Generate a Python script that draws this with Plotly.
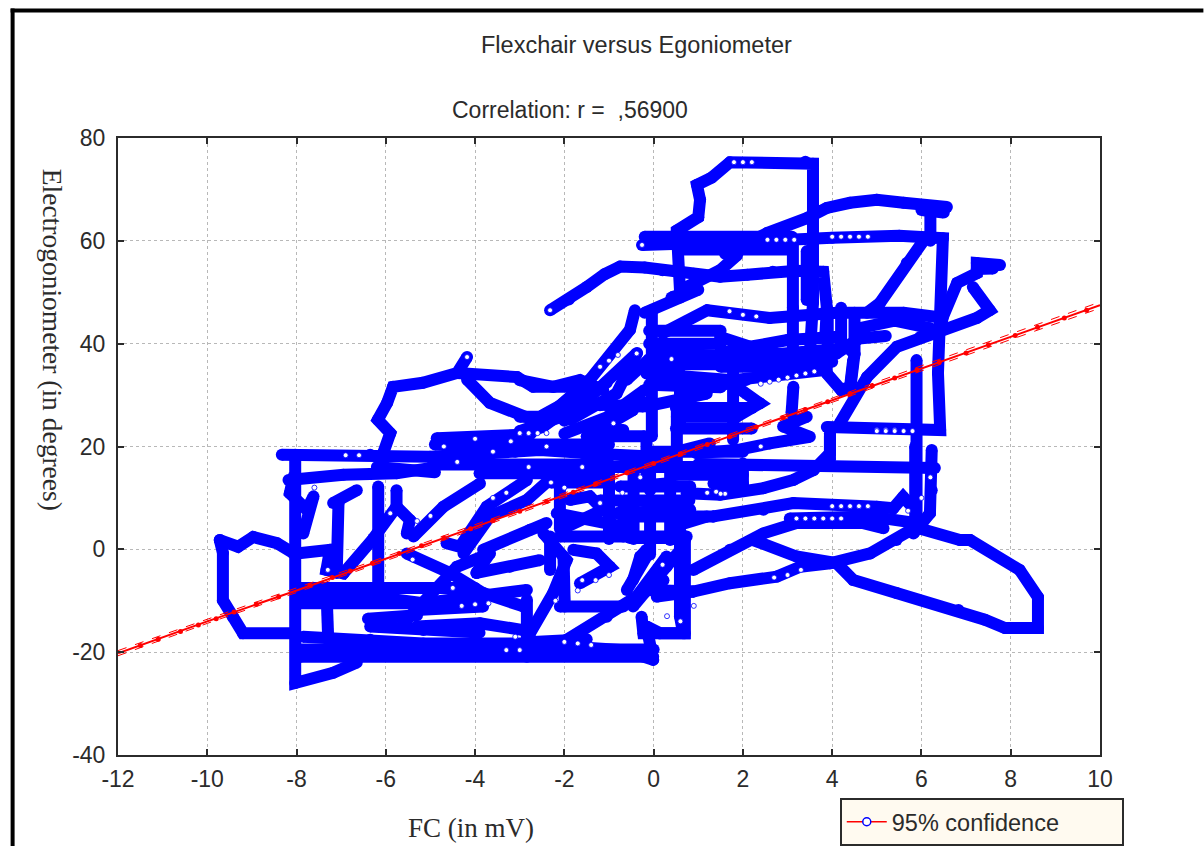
import plotly.graph_objects as go

# ---------- data (FC in mV, electrogoniometer in degrees) ----------
a01_x=[-2.32,-1.9,-1.5,-1.1,-0.75,-0.2,0.2,0.9,1.49,2.1,2.67,3.2,3.8,3.88,3.85]
a01_y=[46.5,48.6,51,53.5,55,54.8,54.3,53.6,53,53.4,54,54.2,54,47,42]
a02_x=[0.59,0.52,1.0,1.04,0.97,1.3,1.71,3.4,3.57,3.57,3.5]
a02_y=[50.4,62,64.6,68,70.9,72.3,75.3,75.4,75,48,38]
a03_x=[-0.26,1.0,2.54,4.0,5.5,6.48,6.42,6.37,6.42,3.88]
a03_y=[59.2,59.4,60,60.6,61,60.5,45,34.3,23.2,23.8]
a04_x=[1.6,2.54,3.43,3.88,4.4,5,5.6,6.57]
a04_y=[57.5,61.5,64.4,66.4,67.4,68,67.4,66.6]
a05_x=[6.2,6.2]
a05_y=[66,60]
a06_x=[6.1,5.67,5.07,4.78]
a06_y=[60.7,55.7,47.9,46]
a07_x=[7.76,7.24,7.24,6.8,6.48,6.4]
a07_y=[55.3,55.7,53.7,51.8,45.2,42]
a08_x=[7.15,7.53,7.24,5.97,5.45,4.78,4.17]
a08_y=[51,46.5,45,41.3,39.4,33.5,24.5]
a09_x=[0.2,1.2,2.6,4.1,5.6,6.35]
a09_y=[42,46.5,45,46,46,45.2]
a10_x=[1.49,2.16,3,4.1,4.5]
a10_y=[41.3,39.4,40.7,41.3,38]
a11_x=[-0.04,-0.04]
a11_y=[46.5,22]
a12_x=[-0.42,-0.53,-1.43,-2.6,-3.1]
a12_y=[46.5,42.7,33,24,19]
a13_x=[-0.37,-1.05,-2.0]
a13_y=[38.2,32.4,25]
a14_x=[1.87,1.49,0.6]
a14_y=[57.2,54.3,50.4]
a15_x=[3.12,3.12,3.12]
a15_y=[60,47,38]
a16_x=[1.78,1.78]
a16_y=[38.8,21.3]
a17_x=[5.89,5.89]
a17_y=[36.8,4.7]
a19_x=[3.43,3.43]
a19_y=[58,48.5]
a20_x=[0.6,3.1]
a20_y=[58.3,58.3]
a21_x=[-0.2,0.6,1.0,0.4]
a21_y=[46,49,50.5,49]
a22_x=[-0.1,1.5]
a22_y=[42.5,42.5]
a23_x=[-0.1,1.5]
a23_y=[40,40]
a24_x=[-0.1,1.5]
a24_y=[36,36]
a25_x=[-0.1,1.5]
a25_y=[32,31.5]
a26_x=[1.5,2.8,4.2]
a26_y=[38.5,38,39]
a27_x=[1.5,2.8,4]
a27_y=[35.5,35.5,36.5]
a28_x=[3.9,3.9]
a28_y=[46,39]
a29_x=[4.2,4.2]
a29_y=[47,39]
a30_x=[4.5,4.5,4.4]
a30_y=[46,38,31]
a31_x=[4.6,5.4,6.2]
a31_y=[43,44.5,43]
a32_x=[4.6,5.2]
a32_y=[41,41.5]
a33_x=[-0.2,3.1]
a33_y=[60.8,60.8]
a34_x=[7.24,7.6]
a34_y=[54.5,54.6]
a35_x=[6.0,6.5]
a35_y=[66,65.5]
a36_x=[-3,-2.25,-1.65,-1.13]
a36_y=[32.9,31.6,32.9,31]
a37_x=[-3,-2.55,-2.0,-1.2,-0.23]
a37_y=[25.8,25.8,28.4,28,27.8]
a38_x=[-2.6,-1.5]
a38_y=[25,31]
a39_x=[-3,-1]
a39_y=[23,29]
a40_x=[-2,-0.2]
a40_y=[22.5,28.5]
a41_x=[-1,-0.2]
a41_y=[26,31]
a42_x=[-0.6,-0.1]
a42_y=[33,37]
a43_x=[0.5,2.2]
a43_y=[27.5,27.5]
a44_x=[0.5,2.2]
a44_y=[23.5,23.5]
a45_x=[0,2]
a45_y=[19,19]
a46_x=[0.5,2]
a46_y=[14.5,14.5]
a47_x=[-1.5,-0.2]
a47_y=[22,22]
b01_x=[-9.72,-9.65,-9.65,-9.42,-9.2,-8.08]
b01_y=[1.8,-0.7,-9.9,-13.2,-16.3,-16.3]
b02_x=[-9.72,-9.31,-8.97,-8.44,-8.08]
b02_y=[1.8,0.5,2.4,1.2,-0.7]
b03_x=[-8.03,-8.03,-7.18,-6.65]
b03_y=[18.4,-26,-24,-22]
b04_x=[-8.33,-6.35,-5.01,-3.67,-2.55,-1.43]
b04_y=[18.4,18.4,18,18.7,19.3,18.7]
b05_x=[-4.86,-2.92,-2.47,-2.17]
b05_y=[21.6,22.3,23.9,25.8]
b06_x=[-4.9,-1.0]
b06_y=[20.4,20.4]
b07_x=[-4.94,-1.0]
b07_y=[16.5,16.5]
b08_x=[-8.18,-6.95,-5.76,-5.01]
b08_y=[13.5,14.5,14.8,15.8]
b09_x=[-6.17,-6.17]
b09_y=[12.2,-8.5]
b10_x=[-6.65,-7.18,-7.06,-7.1]
b10_y=[11.5,9,9,-4.6]
b11_x=[-8.07,-8.15,-7.77,-7.62,-7.85]
b11_y=[14.1,10.9,7.7,10.3,3.1]
b12_x=[-7.33,-7.29]
b12_y=[-7.9,-17.6]
b13_x=[-8,-7.25,-7.33,-6.95,-6.28,-5.76,-5.46,-5.53]
b13_y=[-0.8,-0.1,-4,-4.7,2.1,8.3,5.7,3.1]
b14_x=[-5.76,-5.76]
b14_y=[11.5,8.3]
b15_x=[-3.9,-1.0]
b15_y=[14.8,14.8]
b16_x=[-6.2,-4.9]
b16_y=[16,15]
c01_x=[-5.38,-4.71,-3.89]
c01_y=[2.5,8.3,12.8]
c02_x=[-4.64,-4.34,-3.74,-2.84]
c02_y=[1.2,0.5,8.3,13.5]
c03_x=[-4.26,-3.67,-2.84,-2.17]
c03_y=[-0.8,6.4,9.6,14.8]
c04_x=[-3.82,-2.77,-2.4]
c04_y=[-0.1,3.8,5.1]
c05_x=[-3.97,-3.67]
c05_y=[-4.6,-0.8]
c06_x=[-5.53,-4.56,-3.82,-2.92]
c06_y=[-0.8,-4.6,-8.5,-11.1]
c07_x=[-5.61,-4.41,-3.67]
c07_y=[-14.4,-3.4,-0.8]
c08_x=[-7.92,-6.28,-5.16,-3.82,-2.84]
c08_y=[-8.5,-9.2,-10.5,-9.2,-7.9]
c09_x=[-6.35,-5.16,-3.9]
c09_y=[-15,-15.7,-16.2]
c10_x=[-5.31,-3.82]
c10_y=[-11.8,-11.1]
c11_x=[-5.31,-3.89,-2.92]
c11_y=[-15,-14.4,-15.7]
c12_x=[-7.85,-6.35,-5.16,-2.92,-0.68,-0.01]
c12_y=[-17,-17.6,-18.3,-18.3,-19.6,-21.5]
c13_x=[-7.92,-0.01]
c13_y=[-20.9,-20.9]
c14_x=[-2.77,-2.25,-1.95,-2.47]
c14_y=[-16.3,-8.5,-2.1,3.1]
c15_x=[-2.84,-2.84]
c15_y=[-9.8,-20.9]
c16_x=[-2.02,-1.99]
c16_y=[-1.4,-11.1]
c17_x=[-2.1,-0.68]
c17_y=[-11.1,-11.1]
c18_x=[-1.95,-1.05,-0.38,0.29]
c18_y=[-17.6,-13.1,-9.2,-1.4]
c19_x=[-0.6,-0.16]
c19_y=[-7.9,-1.4]
c20_x=[0.7,0.7,0.14,-0.16,-0.01]
c20_y=[1.8,-16.3,-16.3,-15,-21.5]
c21_x=[-2.1,0.74]
c21_y=[2.5,2.5]
c22_x=[-2.17,-0.68]
c22_y=[7,4.4]
c23_x=[-1.95,-1.13,-1.43,-1.87]
c23_y=[4.4,7.7,10.3,9.6]
c24_x=[-1.65,-0.98,-1.28,-1.8]
c24_y=[-6.6,-3.4,-0.8,-0.1]
c25_x=[-2.55,-3.22,-3.97]
c25_y=[-2.1,-3.4,-4.6]
c26_x=[-2.32,-2.32]
c26_y=[2.5,-4]
c27_x=[-1.58,0.07,1.26]
c27_y=[18.7,18,20.6]
c28_x=[-1.43,-2.47]
c28_y=[32.9,25.2]
c29_x=[-0.38,-0.83,-1.87]
c29_y=[38.1,30.3,25.2]
c30_x=[0.37,0.37]
c30_y=[17.4,1.8]
c31_x=[-0.16,-0.16]
c31_y=[21.9,12.8]
c32_x=[-0.75,0.82]
c32_y=[12.2,12.2]
c33_x=[-0.83,0.82]
c33_y=[7,7.7]
c34_x=[-0.16,1.19]
c34_y=[27.8,30.3]
c35_x=[-1.35,-0.68]
c35_y=[23.2,23.2]
c36_x=[-4.18,-4.4,-5.17,-5.84,-5.97,-6.18,-5.9,-6.06]
c36_y=[37.4,34.3,32.4,31.6,28.5,25.2,22.6,18.7]
c37_x=[-4.4,-3.06,-2.7,-1.65,-1.3]
c37_y=[34.3,33.5,31.6,31.6,31]
c38_x=[-4.18,-3.67,-2.7]
c38_y=[33,28.5,25.2]
c39_x=[-1.0,-1.0]
c39_y=[15,2]
c40_x=[-0.45,-0.45]
c40_y=[15,2]
c41_x=[-1.5,1.3]
c41_y=[16,16]
c42_x=[-1.2,0.8]
c42_y=[9.5,9.5]
c43_x=[-8,-4]
c43_y=[-7.5,-7.5]
c44_x=[-8,-4]
c44_y=[-10.5,-10.5]
c45_x=[-6.4,-5.3]
c45_y=[-13.5,-12.8]
c46_x=[-8,-3]
c46_y=[-19.5,-19.5]
c47_x=[-2.7,0]
c47_y=[-19.5,-19.5]
c48_x=[-2.7,-1.5]
c48_y=[-18,-17.5]
c49_x=[-2.1,-2.1]
c49_y=[15,4]
c50_x=[-2.3,-1.0]
c50_y=[13,13]
c51_x=[-0.68,-0.68]
c51_y=[8,2.5]
c52_x=[-0.08,-0.08]
c52_y=[17,11.5]
c53_x=[-0.08,-0.08]
c53_y=[8.5,-1]
d01_x=[2.23,3.2,4.1,4.47,5.44,6.83,7.42,7.87,8.61,8.61,8.2,7.09,6.86,5.82]
d01_y=[1.8,-1.4,-2.7,-5.95,-8.5,-11.8,-13.7,-15.3,-15.3,-9.3,-4,1.8,1.8,4.4]
d02_x=[-0.08,0.89,1.71,2.76,3.28,3.95,4.85,5.44,5.89]
d02_y=[-7.9,-8.2,-6.6,-5.3,-3.4,-2.7,-0.8,1.8,4.4]
d03_x=[0.89,1.71,2.46,3.2,4.7,5.15]
d03_y=[-4,-0.1,3.1,5.1,5.1,4.1]
d04_x=[0.59,0.59,0.66,-0.23,-0.27]
d04_y=[3.8,-13,-16.3,-16.3,-13.1]
d05_x=[1.0,2.08,5.89,6.3]
d05_y=[16.6,16.4,15.8,15.8]
d06_x=[3.95,3.95,3.58,3.13,2.46,1.49,0.74]
d06_y=[21.9,18.7,15.4,13.5,11.9,10.6,10.9]
d07_x=[1.34,2.46,3.13,5,5.37,5.59,5.82]
d07_y=[6.4,7.7,9,8.3,8,10.2,8]
d08_x=[3.05,4.85,5.82]
d08_y=[6,6.4,5.2]
d09_x=[-0.01,2.23,4.1,4.6]
d09_y=[38.1,37.5,38.1,41]
d10_x=[-0.16,1.78,3.88]
d10_y=[34.2,32.9,34.9]
d11_x=[0.59,2.08]
d11_y=[30.3,33]
d12_x=[0.52,1.86,2.38,1.86]
d12_y=[25.8,25.8,28.4,31.6]
d13_x=[-0.46,-1.35]
d13_y=[27.1,22.6]
d14_x=[0.59,0.59]
d14_y=[34.2,23.9]
d15_x=[4.47,4.4,4.2,3.88]
d15_y=[36.8,31.6,31,34.2]
d16_x=[3.13,3.09]
d16_y=[31.6,26.5]
d17_x=[0.96,1.86,2.6,3.5,2.9,3.43]
d17_y=[18.7,19.3,20.6,21.9,23.9,25.8]
d18_x=[6.23,6.23,6.19,5.82]
d18_y=[19.3,11.5,7,3.1]
d19_x=[5.86,5.86]
d19_y=[20,5]
d20_x=[-0.53,0.44]
d20_y=[2.2,2.2]
d21_x=[-0.38,0.37,1.34]
d21_y=[6.4,6.4,6.4]
d22_x=[0.44,1.19]
d22_y=[4.4,6.4]
d23_x=[-0.53,0.29]
d23_y=[12.2,12.8]
d24_x=[1.34,2,2]
d24_y=[12.8,12.8,16.7]
d25_x=[-0.46,-0.3,-0.16]
d25_y=[-5.95,-1.4,-0.1]
d26_x=[-0.46,0.29,0.66]
d26_y=[-11.1,-3.4,0.5]
d27_x=[-0.23,0.22]
d27_y=[-8.5,-6]
d28_x=[0.07,0.89]
d28_y=[-9.2,-8.2]
d29_x=[0.52,0.52]
d29_y=[28.4,16]
d30_x=[3.95,3.95]
d30_y=[22.6,17.4]

strands=[globals()[k] for k in sorted(globals()) if k[0] in "abcd" and k[1:3].isdigit()]
strands=[(strands[i],strands[i+1]) for i in range(0,len(strands),2)]

ring_x=[-2.32,-4.18,-0.26,-0.38,4.0,4.2,4.4,4.6,4.8,5.0,5.2,5.4,2.55,2.75,2.95,3.15,5.0,5.2,5.4,5.6,5.8,
        1.8,2.0,2.2,-3.0,-2.8,-2.6,-2.4,2.4,2.6,2.8,3.0,3.2,3.4,3.6,-1.2,-1.0,-0.8,1.7,2.0,2.3,-0.9,0.4,
        -6.9,-6.6,-5.3,-5.0,-4.5,-3.3,-3.0,-3.6,-3.3,-1.0,-1.3,-1.7,0.3,0.6,-4.3,-4.0,-3.7,-2.0,-1.7,-1.4,
        4.0,4.2,4.4,4.6,4.8,3.2,3.4,3.6,3.8,4.0,4.2,1.2,1.4,1.6,2.7,3.0,3.3,5.7,6.0,6.2,-2.3,-2.0,-1.6,
        -4.7,-4.4,-4.0,-3.6,-3.2,-2.8,-2.4,-7.6,-7.3,-5.9,-5.4,-3.1,-2.2,-1.6,-1.2,-0.7,-0.3,0.2,0.9,1.5,2.4]
ring_y=[46.5,37.4,59.2,38.1,60.8,60.8,60.8,60.8,60.8,23.2,23.2,23.2,60.2,60.2,60.2,60.2,23,23,23,23,23,
        75.3,75.3,75.3,22.6,22.6,22.6,22.6,32.2,32.6,33,33.4,33.8,34.2,34.6,35.5,36.7,37.8,46.3,45.6,45.3,24.5,37,
        18.3,18.3,5.5,6.5,-7.5,-19.6,-19.6,10,11,-5,-6,-8,-13,-14,-11,-10.7,-10.5,-18,-18.3,-18.6,
        8.4,8.4,8.4,8.4,8.4,6,6,6,6,6,6,11,11.2,10.8,-5.5,-5,-4,7.5,10,14,13,12,16,
        20,17,21.5,19,21,16,20,12,-4,7,-2,-17,-10,-6,9,11,14,-3,-11,10.8,20,5]

reg_x=[-12,-10,-8,-6,-4,-2,0,2,4,6,8,10]
reg_y=[-20.2,-14,-8,-1.8,4.4,10.5,16.7,22.9,29,35.2,41.3,47.5]
upper_y=[-19.7,-13.6,-7.6,-1.4,4.8,10.9,17.1,23.3,29.4,35.7,41.9,48.1]
lower_y=[-20.7,-14.4,-8.4,-2.2,4.0,10.1,16.3,22.5,28.6,34.7,40.7,46.9]
blob_x=[-11.5,-11.1,-10.6,-10.2,-9.8,-9.4,-8.9,-8.4,-7.7,-7.2,-6.8,-6.3,-5.7,-5.2,-4.7,-4.1,-3.6,-3.0,-2.4,-1.8,-1.3,-0.6,0.0,0.6,1.2,1.7,2.3,2.9,3.4,3.9,4.4,4.9,5.4,5.9,6.4,7.0,7.5,8.1,8.6,9.2,9.7]
blob_y=[-18.7,-17.5,-16,-14.7,-13.5,-12.2,-10.7,-9.2,-7,-5.5,-4.2,-2.7,-0.8,0.7,2.2,4,5.6,7.4,9.3,11.1,12.7,14.9,16.7,18.5,20.4,21.9,23.8,25.6,27.2,28.7,30.2,31.8,33.3,34.9,36.4,38.2,39.8,41.6,43.2,45,46.5]

x_ticks=[-12,-10,-8,-6,-4,-2,0,2,4,6,8,10]
y_ticks=[-40,-20,0,20,40,60,80]

title_text="Flexchair versus Egoniometer"
subtitle_text="Correlation: r =  ,56900"
x_title="FC (in mV)"
y_title="Electrogoniometer (in degrees)"
legend_text="95% confidence"

# ---------- layout constants ----------
W,H=1204,846
L,T,PW,PH=117.5,137.5,983,617.5
px=lambda v:(v-L)/PW
py=lambda v:1-(v-T)/PH
BLUE="#0000ff"; RED="#ff0000"; INK="#2b2b2b"
SANS="Liberation Sans"; SERIF="Liberation Serif"

fig=go.Figure()
for sx,sy in strands:
    fig.add_trace(go.Scatter(x=sx,y=sy,mode="lines+markers",showlegend=False,hoverinfo="skip",
                             line=dict(color=BLUE,width=12),marker=dict(color=BLUE,size=12)))
fig.add_trace(go.Scatter(x=ring_x,y=ring_y,mode="markers",showlegend=False,hoverinfo="skip",
                         marker=dict(symbol="circle",size=5,color="white",line=dict(color=BLUE,width=0.8))))
for yy in (upper_y,lower_y):
    fig.add_trace(go.Scatter(x=reg_x,y=yy,mode="lines",showlegend=False,hoverinfo="skip",
                             line=dict(color=RED,width=1,dash="dash")))
fig.add_trace(go.Scatter(x=reg_x,y=reg_y,mode="lines",showlegend=False,hoverinfo="skip",
                         line=dict(color=RED,width=2)))
fig.add_trace(go.Scatter(x=blob_x,y=blob_y,mode="markers",showlegend=False,hoverinfo="skip",
                         marker=dict(symbol="circle",size=5,color=RED)))
fig.add_trace(go.Scatter(x=[None],y=[None],mode="lines+markers",name=legend_text,
                         line=dict(color=RED,width=1.5),
                         marker=dict(symbol="circle",size=8,color="white",line=dict(color=BLUE,width=1.5))))

axis=dict(showgrid=True,gridcolor="#b8b8b8",griddash="dot",gridwidth=1,zeroline=False,
          showline=True,linecolor=INK,linewidth=2,mirror="ticks",ticks="inside",ticklen=6,tickwidth=2,
          tickcolor=INK,tickfont=dict(family=SANS,size=23,color=INK),tickmode="array")

fig.update_layout(
    width=W,height=H,paper_bgcolor="white",plot_bgcolor="white",showlegend=True,
    margin=dict(l=L,r=W-L-PW,t=T,b=H-T-PH,pad=0,autoexpand=False),
    xaxis=dict(axis,range=[-12,10],tickvals=x_ticks,ticktext=[str(v) for v in x_ticks],ticklabelstandoff=2),
    yaxis=dict(axis,range=[-40,80],tickvals=y_ticks,ticktext=[str(v) for v in y_ticks],ticklabelstandoff=6),
    legend=dict(x=px(840),y=py(798),xanchor="left",yanchor="top",bgcolor="#fffaf0",orientation="h",
                bordercolor=INK,borderwidth=2,font=dict(family=SANS,size=23.5,color=INK),
                entrywidth=225,entrywidthmode="pixels",itemwidth=40),
    annotations=[
        dict(text=title_text,x=px(637),y=py(44),xref="paper",yref="paper",showarrow=False,
             xanchor="center",yanchor="middle",font=dict(family=SANS,size=23.5,color=INK)),
        dict(text=subtitle_text,x=px(570),y=py(109),xref="paper",yref="paper",showarrow=False,
             xanchor="center",yanchor="middle",font=dict(family=SANS,size=23,color=INK)),
        dict(text=x_title,x=px(471),y=py(828),xref="paper",yref="paper",showarrow=False,
             xanchor="center",yanchor="middle",font=dict(family=SERIF,size=27,color=INK)),
        dict(text=y_title,x=px(52),y=py(339),xref="paper",yref="paper",showarrow=False,textangle=90,
             xanchor="center",yanchor="middle",font=dict(family=SERIF,size=27.5,color=INK)),
    ],
    shapes=[
        dict(type="rect",xref="paper",yref="paper",x0=px(10),x1=px(14),y0=py(846),y1=py(8),
             fillcolor="black",line=dict(width=0),layer="below"),
        dict(type="rect",xref="paper",yref="paper",x0=px(10),x1=px(1204),y0=py(12),y1=py(8),
             fillcolor="black",line=dict(width=0),layer="below"),
    ],
)

fig.write_html("out.html",config=dict(displayModeBar=False),
               post_script="document.body.style.margin='0';document.body.style.overflow='hidden';")
